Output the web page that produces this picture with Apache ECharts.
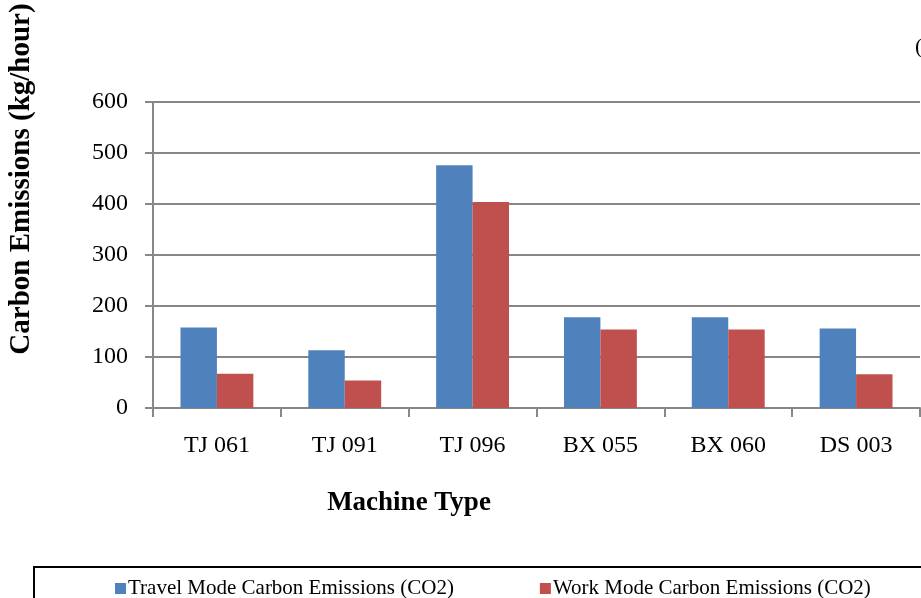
<!DOCTYPE html>
<html>
<head>
<meta charset="utf-8">
<script src="https://cdn.jsdelivr.net/npm/echarts@6/dist/echarts.min.js"></script>
<style>
html,body{margin:0;padding:0;background:#fff;}
#chart{width:921px;height:598px;}
</style>
</head>
<body>
<div id="chart"></div>
<script>
const categories = ['TJ 061', 'TJ 091', 'TJ 096', 'BX 055', 'BX 060', 'DS 003'];
const travelMode = [158, 113, 476, 178, 178, 156];
const workMode = [67, 54, 404, 154, 154, 66];
const yTicks = [0, 100, 200, 300, 400, 500, 600];
const seriesNames = ['Travel Mode Carbon Emissions (CO2)', 'Work Mode Carbon Emissions (CO2)'];
const yTitle = 'Carbon Emissions (kg/hour)';
const xTitle = 'Machine Type';

const FONT = '"Liberation Serif", "Times New Roman", serif';
const AXIS_GRAY = '#878787';

const chart = echarts.init(document.getElementById('chart'), null, {renderer: 'canvas'});
chart.setOption({
  animation: false,
  backgroundColor: '#ffffff',
  textStyle: {fontFamily: FONT},
  grid: {left: 153, top: 102, right: 1, bottom: 190, containLabel: false},
  legend: {
    left: 110, top: 573,
    itemWidth: 11, itemHeight: 11, itemGap: 86,
    icon: 'rect',
    textStyle: {fontFamily: FONT, fontSize: 21, color: '#000', padding: [0, 0, 0, -3]},
    data: seriesNames
  },
  xAxis: {
    type: 'category',
    data: categories,
    axisLine: {lineStyle: {color: AXIS_GRAY, width: 2}},
    axisTick: {show: true, length: 9, lineStyle: {color: AXIS_GRAY, width: 2}},
    axisLabel: {fontFamily: FONT, fontSize: 24, color: '#000', margin: 26},
    splitLine: {show: false}
  },
  yAxis: {
    type: 'value',
    min: yTicks[0], max: yTicks[yTicks.length - 1], interval: yTicks[1] - yTicks[0],
    axisLine: {show: true, lineStyle: {color: AXIS_GRAY, width: 2}},
    axisTick: {show: true, length: 8, lineStyle: {color: AXIS_GRAY, width: 2}},
    axisLabel: {fontFamily: FONT, fontSize: 24, color: '#000', margin: 25},
    splitLine: {show: true, lineStyle: {color: AXIS_GRAY, width: 2}}
  },
  series: [
    {name: seriesNames[0], type: 'bar', data: travelMode, barGap: '0%', barCategoryGap: '43%',
     itemStyle: {color: '#4F81BD'}},
    {name: seriesNames[1], type: 'bar', data: workMode, barGap: '0%', barCategoryGap: '43%',
     itemStyle: {color: '#C0504D'}}
  ],
  graphic: [
    {type: 'text', x: 22, y: 179, rotation: Math.PI / 2,
     style: {text: yTitle, font: 'bold 29px ' + FONT, fill: '#000', align: 'center', verticalAlign: 'middle'}},
    {type: 'text', x: 409, y: 503,
     style: {text: xTitle, font: 'bold 27px ' + FONT, fill: '#000', align: 'center', verticalAlign: 'middle'}},
    {type: 'text', x: 915, y: 47,
     style: {text: '(', font: '22px ' + FONT, fill: '#000', align: 'left', verticalAlign: 'middle'}},
    {type: 'rect', shape: {x: 34, y: 567, width: 900, height: 60},
     style: {fill: 'none', stroke: '#000', lineWidth: 2}, z: -1}
  ]
});
</script>
</body>
</html>
